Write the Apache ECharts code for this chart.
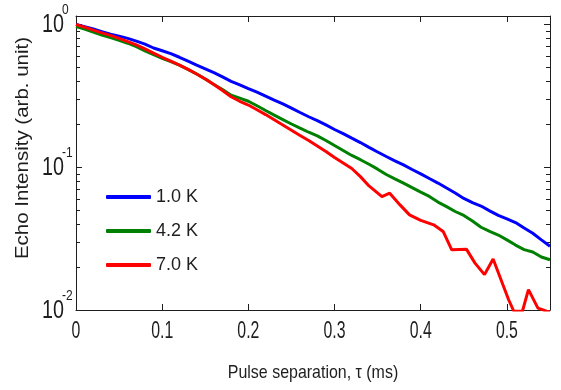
<!DOCTYPE html>
<html><head><meta charset="utf-8">
<script src="https://cdn.jsdelivr.net/npm/echarts@6/dist/echarts.min.js"></script>
<style>html,body{margin:0;padding:0;background:#fff}#c{width:561px;height:390px}</style>
</head><body><div id="c"></div>
<script>
// ---- data ----
const seriesNames = ['1.0 K', '4.2 K', '7.0 K'];
const tCommon = [0,0.01,0.02,0.03,0.04,0.05,0.06,0.07,0.08,0.09,0.10,0.11,0.12,0.13,0.14,0.15,0.16,0.17,0.18,0.19,0.20,0.21,0.22,0.23,0.24,0.25,0.26,0.27,0.28,0.29,0.30,0.31,0.32,0.33,0.34,0.35,0.36,0.37,0.38,0.39,0.40,0.41,0.42,0.43,0.44,0.45,0.46,0.47,0.48,0.49,0.50,0.51,0.52,0.53,0.54,0.55];
const vBlue = [1.00,0.965,0.93,0.89,0.855,0.83,0.80,0.765,0.73,0.685,0.655,0.625,0.59,0.555,0.52,0.49,0.46,0.43,0.40,0.378,0.356,0.336,0.315,0.295,0.278,0.26,0.242,0.226,0.212,0.198,0.184,0.172,0.16,0.149,0.138,0.128,0.119,0.111,0.104,0.0965,0.090,0.0835,0.0775,0.0715,0.066,0.0605,0.0565,0.0535,0.0495,0.046,0.0435,0.041,0.0375,0.0345,0.031,0.028];
const vGreen = [0.97,0.93,0.885,0.845,0.81,0.775,0.74,0.70,0.655,0.615,0.58,0.55,0.52,0.485,0.45,0.415,0.38,0.35,0.32,0.305,0.29,0.27,0.25,0.232,0.216,0.201,0.188,0.176,0.166,0.154,0.142,0.131,0.121,0.113,0.105,0.097,0.089,0.083,0.0775,0.072,0.067,0.0625,0.057,0.053,0.049,0.046,0.042,0.038,0.0355,0.0335,0.031,0.0285,0.0265,0.0255,0.0235,0.0225];
const tRed = [0,0.01,0.02,0.03,0.04,0.05,0.06,0.07,0.08,0.09,0.10,0.11,0.12,0.13,0.14,0.15,0.16,0.17,0.18,0.19,0.20,0.21,0.22,0.23,0.24,0.25,0.26,0.27,0.28,0.29,0.30,0.31,0.32,0.33,0.34,0.355,0.364,0.376,0.387,0.40,0.415,0.426,0.436,0.453,0.463,0.474,0.484,0.502,0.508,0.518,0.525,0.536,0.546,0.55];
const vRed = [1.0,0.96,0.915,0.875,0.84,0.80,0.76,0.72,0.675,0.63,0.59,0.555,0.52,0.485,0.45,0.415,0.38,0.345,0.312,0.29,0.273,0.253,0.234,0.215,0.198,0.182,0.167,0.154,0.141,0.129,0.117,0.107,0.098,0.086,0.074,0.0623,0.0658,0.0545,0.0464,0.0425,0.0395,0.0355,0.0264,0.0267,0.0213,0.0177,0.0228,0.0118,0.0098,0.0098,0.0139,0.0103,0.0098,0.0097];
const xTicks = [0,0.1,0.2,0.3,0.4,0.5];
const yMajor = [0.01,0.1,1];
const yMinor = [0.02,0.03,0.04,0.05,0.06,0.07,0.08,0.09,0.2,0.3,0.4,0.5,0.6,0.7,0.8,0.9];
const xTitle = 'Pulse separation, \u03c4 (ms)';
const yTitle = 'Echo Intensity (arb. unit)';

// ---- chart ----
const font = "'Liberation Sans', Arial, sans-serif";
const ink = '#1e1e1e';
const colors = ['#0000ff', '#008000', '#ff0000'];
const pairs = (ts, vs) => ts.map((t, i) => [t, vs[i]]);
const X0 = 0, X1 = 0.55, Y0 = 0.01, Y1 = 1.148;

function yAx(pos, ticks, len, main) {
  return {
    type: 'log', logBase: 10, min: Y0, max: Y1, position: pos,
    axisLine: {show: main, lineStyle: {color: ink, width: 1}},
    axisTick: {show: true, inside: true, length: len, customValues: ticks, lineStyle: {color: ink, width: 1}},
    axisLabel: {show: false},
    splitLine: {show: false}, minorTick: {show: false}
  };
}
function xAx(pos) {
  return {
    type: 'value', min: X0, max: X1, position: pos,
    axisLine: {show: true, lineStyle: {color: ink, width: 1}},
    axisTick: {show: true, inside: true, length: 6, customValues: xTicks, lineStyle: {color: ink}},
    axisLabel: {show: false}, splitLine: {show: false}
  };
}

const option = {
  animation: false,
  backgroundColor: '#ffffff',
  grid: {left: 76, right: 11, top: 16, bottom: 80, outerBoundsMode: 'none'},
  legend: {
    orient: 'vertical', left: 106, top: 187, padding: 0,
    icon: 'roundRect', itemWidth: 45, itemHeight: 4, itemGap: 14,
    textStyle: {fontSize: 18, lineHeight: 20, fontFamily: font, color: ink},
    data: seriesNames
  },
  xAxis: [xAx('bottom'), xAx('top')],
  yAxis: [
    yAx('left', yMajor, 6, true),
    yAx('left', yMinor, 4, false),
    yAx('right', yMajor, 6, true),
    yAx('right', yMinor, 4, false)
  ],
  series: [
    {name: seriesNames[0], type: 'line', data: pairs(tCommon, vBlue)},
    {name: seriesNames[1], type: 'line', data: pairs(tCommon, vGreen)},
    {name: seriesNames[2], type: 'line', data: pairs(tRed, vRed)}
  ].map((s, i) => Object.assign(s, {
    xAxisIndex: 0, yAxisIndex: 0, showSymbol: false, symbol: 'none', clip: true,
    color: colors[i], lineStyle: {color: colors[i], width: 3}, itemStyle: {color: colors[i]}
  }))
};

const chart = echarts.init(document.getElementById('c'), null, {renderer: 'canvas'});
chart.setOption(option);

// Tick labels and axis titles (narrow, condensed text as in the reference),
// positioned through the chart's own axes.
const px = v => chart.convertToPixel({xAxisIndex: 0}, v);
const py = v => chart.convertToPixel({yAxisIndex: 0}, v);
const xBase = px(X0), yBase = py(Y0), yTop = py(Y1), xEnd = px(X1);
const txt = (text, x, y, size, align, sx, extra) => Object.assign({
  type: 'text', x: x, y: y, scaleX: sx, silent: true,
  style: {text: text, fontSize: size, fontFamily: font, fill: ink, align: align, verticalAlign: 'middle'}
}, extra || {});
const graphics = [];
xTicks.forEach(t => graphics.push(txt(String(t), px(t), yBase + 21, 24, 'center', 0.66)));
yMajor.forEach(v => {
  const y = py(v);
  graphics.push(txt('10', xBase - 12, y + 0.5, 26, 'right', 0.76));
  graphics.push(txt(String(Math.round(Math.log10(v))), xBase - 14, y - 14.5, 15, 'left', 0.8));
});
graphics.push(txt(xTitle, (xBase + xEnd) / 2, yBase + 63, 19, 'center', 0.84));
graphics.push({
  type: 'text', x: 23, y: (yBase + yTop) / 2 - 15, rotation: Math.PI / 2, scaleY: 0.86, silent: true,
  style: {text: yTitle, fontSize: 20.5, fontFamily: font, fill: ink, align: 'center', verticalAlign: 'middle'}
});
chart.setOption({graphic: graphics});
</script>
</body></html>
